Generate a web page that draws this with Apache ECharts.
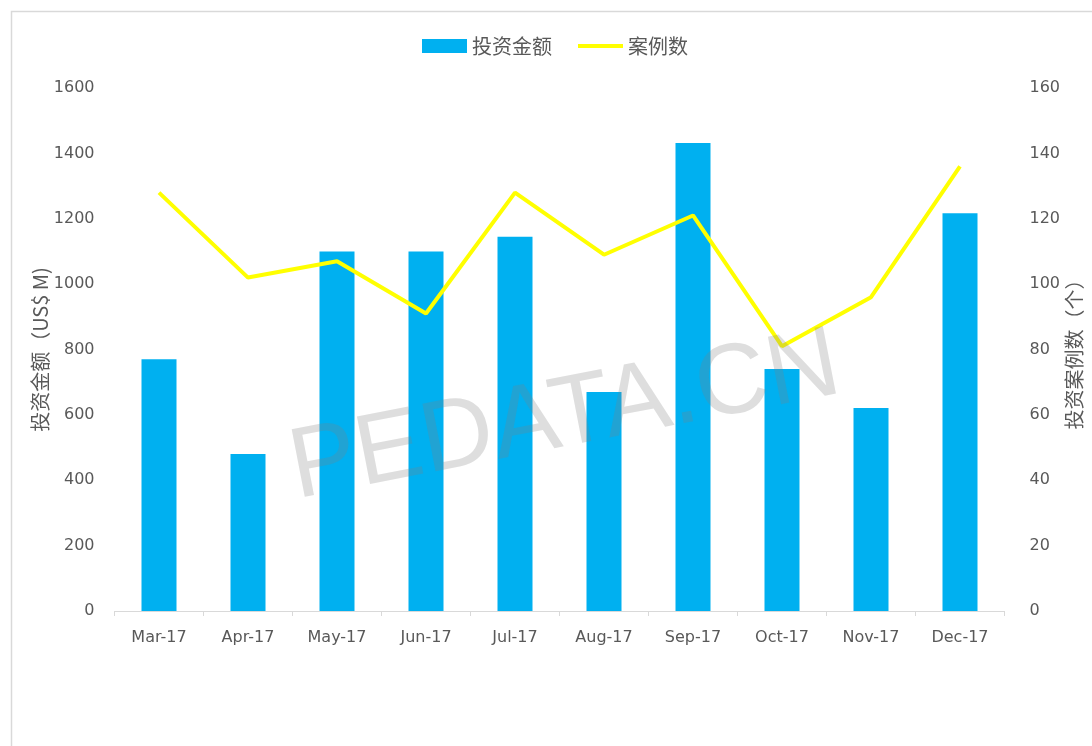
<!DOCTYPE html>
<html>
<head>
    <meta charset="utf-8">
    <title>投资金额与案例数</title>
    <script src="https://cdn.jsdelivr.net/npm/echarts@6/dist/echarts.min.js"></script>
    <style>
        body { margin: 0; background: #fff; }
        #chart { width: 1092px; height: 746px; }
    </style>
</head>
<body>
<div id="chart"></div>
<script>
    // 数据
    var months = ['Mar-17', 'Apr-17', 'May-17', 'Jun-17', 'Jul-17', 'Aug-17', 'Sep-17', 'Oct-17', 'Nov-17', 'Dec-17'];
    var amount = [770, 480, 1100, 1100, 1145, 670, 1432, 740, 621, 1217];
    var cases = [128, 102, 107, 91, 128, 109, 121, 81, 96, 136];
    var leftTicks = [0, 1600, 200];
    var rightTicks = [0, 160, 20];

    var cjk = '"Noto Sans CJK SC", sans-serif';
    var num = '"DejaVu Sans", sans-serif';

    var chart = echarts.init(document.getElementById('chart'));
    var option = {
        animation: false,
        textStyle: { fontFamily: cjk },
        legend: {
            top: 31,
            left: 417,
            itemGap: 26,
            itemWidth: 45,
            itemHeight: 14,
            textStyle: { fontSize: 20, color: '#595959', fontFamily: cjk },
            data: [
                { name: '投资金额', icon: 'rect' },
                { name: '案例数', icon: 'path://M0,0 L45,0 L45,4 L0,4 Z' }
            ]
        },
        grid: {
            left: 114.5,
            right: 87.5,
            top: 88,
            bottom: 135,
            outerBoundsMode: 'none'
        },
        xAxis: {
            type: 'category',
            data: months,
            axisLine: { lineStyle: { color: '#d9d9d9' } },
            axisTick: { show: true, length: 5, lineStyle: { color: '#d9d9d9' } },
            axisLabel: { color: '#595959', fontSize: 16, fontFamily: num, margin: 19 }
        },
        yAxis: [
            {
                type: 'value',
                min: leftTicks[0],
                max: leftTicks[1],
                interval: leftTicks[2],
                name: '投资金额（US$ M)',
                nameLocation: 'middle',
                nameRotate: 90,
                nameGap: 64,
                nameMoveOverlap: false,
                nameTextStyle: { color: '#595959', fontSize: 20 },
                axisLine: { show: false },
                axisTick: { show: false },
                splitLine: { show: false },
                axisLabel: {
                    color: '#595959', fontSize: 16, fontFamily: num, margin: 20,
                    formatter: function (v) { return String(v); }
                }
            },
            {
                type: 'value',
                min: rightTicks[0],
                max: rightTicks[1],
                interval: rightTicks[2],
                name: '投资案例数（个）',
                nameLocation: 'middle',
                nameRotate: 90,
                nameGap: 60,
                nameMoveOverlap: false,
                nameTextStyle: { color: '#595959', fontSize: 20 },
                axisLine: { show: false },
                axisTick: { show: false },
                splitLine: { show: false },
                axisLabel: {
                    color: '#595959', fontSize: 16, fontFamily: num, margin: 25,
                    formatter: function (v) { return String(v); }
                }
            }
        ],
        series: [
            {
                name: '投资金额',
                type: 'bar',
                yAxisIndex: 0,
                barWidth: 35,
                itemStyle: { color: '#00b0f0' },
                data: amount
            },
            {
                name: '案例数',
                type: 'line',
                yAxisIndex: 1,
                symbol: 'none',
                lineStyle: { color: '#ffff00', width: 4 },
                itemStyle: { color: '#ffff00' },
                data: cases
            }
        ],
        graphic: [
            {
                type: 'rect',
                left: 9,
                top: 9,
                z: -1,
                shape: { width: 1100, height: 760 },
                style: { fill: 'none', stroke: '#d9d9d9', lineWidth: 1.5 }
            },
            {
                // 水印
                type: 'text',
                x: 565,
                y: 418,
                rotation: Math.PI / 180 * 11,
                z: 100,
                style: {
                    text: 'PEDATA.CN',
                    fill: 'rgba(128,128,128,0.26)',
                    font: '100px "Liberation Sans", sans-serif',
                    align: 'center',
                    verticalAlign: 'middle'
                }
            }
        ]
    };
    chart.setOption(option);
</script>
</body>
</html>
